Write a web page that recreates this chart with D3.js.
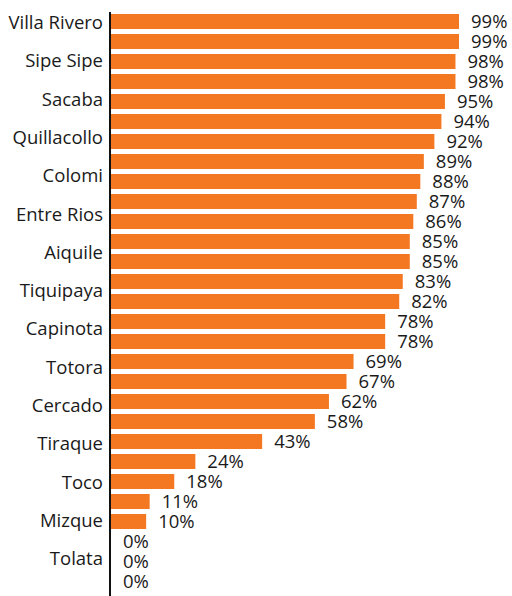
<!DOCTYPE html>
<html>
<head>
<meta charset="utf-8">
<script src="https://cdn.jsdelivr.net/npm/d3@7"></script>
<style>
  body { margin: 0; background: #fff; }
  text { font-family: "Open Sans", sans-serif; fill: #1a1a1a; }
</style>
</head>
<body>
<div id="chart"></div>
<script>
// bar values in percent, top to bottom (29 municipalities)
let values = [99, 99, 98, 98, 95, 94, 92, 89, 88, 87, 86, 85, 85, 83, 82,
              78, 78, 69, 67, 62, 58, 43, 24, 18, 11, 10, 0, 0, 0];
// only every other category name is shown on the axis
let labels = ["Villa Rivero", "Sipe Sipe", "Sacaba", "Quillacollo", "Colomi",
              "Entre Rios", "Aiquile", "Tiquipaya", "Capinota", "Totora",
              "Cercado", "Tiraque", "Toco", "Mizque", "Tolata"];

let W = 512, H = 596;

let svg = d3.select("div#chart")
    .append("svg")
    .attr("width", W)
    .attr("height", H);

let x = d3.scaleLinear()
    .domain([0, 100])
    .range([111, 462.5]);

let y = d3.scaleBand()
    .domain(d3.range(values.length))
    .range([11.5, 591.5])
    .paddingInner(0.25)
    .paddingOuter(0.125);

let yLab = d3.scalePoint()
    .domain(labels)
    .range([22.5, 559]);

svg.selectAll("rect.bar")
    .data(values)
    .enter()
    .append("rect")
    .attr("class", "bar")
    .attr("x", x(0))
    .attr("y", function(d, i) { return y(i); })
    .attr("width", function(d) { return x(d) - x(0); })
    .attr("height", y.bandwidth())
    .attr("fill", "#f47721");

svg.selectAll("text.val")
    .data(values)
    .enter()
    .append("text")
    .attr("class", "val")
    .attr("x", function(d) { return x(d) + 12; })
    .attr("y", function(d, i) { return y(i) + y.bandwidth() / 2; })
    .attr("dy", "0.36em")
    .style("font-size", "18.5px")
    .text(function(d) { return d + "%"; });

let yAxis = d3.axisLeft(yLab).tickSize(0).tickPadding(8);

let ax = svg.append("g")
    .attr("transform", "translate(" + x(0) + ",0)")
    .call(yAxis);
ax.select(".domain").remove();
ax.selectAll("text")
    .style("font-size", "18.5px")
    .attr("fill", "#1a1a1a");

svg.append("line")
    .attr("x1", x(0) - 1).attr("x2", x(0) - 1)
    .attr("y1", 12).attr("y2", H)
    .attr("stroke", "#111")
    .attr("stroke-width", 2);
</script>
</body>
</html>
